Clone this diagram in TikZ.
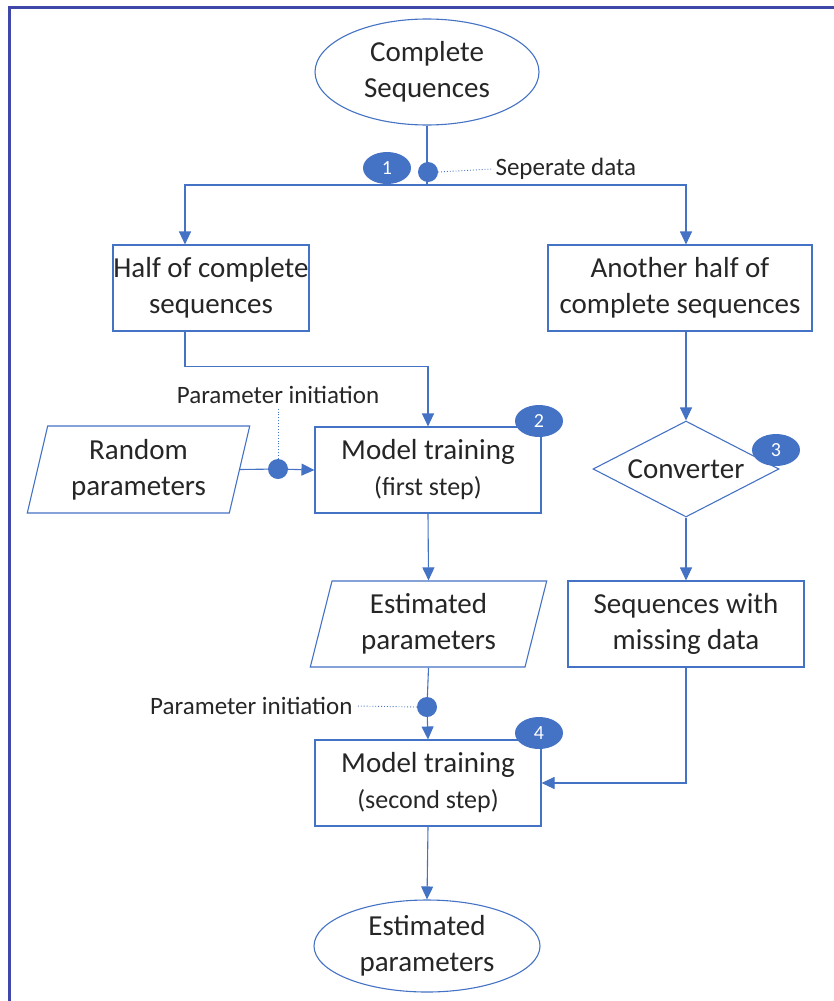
\documentclass[tikz,border=0pt]{standalone}
\usepackage{fontspec}
\setmainfont{Carlito}
\usetikzlibrary{shapes.geometric,arrows.meta}
\definecolor{flowblue}{RGB}{68,114,196}
\definecolor{frameblue}{RGB}{63,72,168}

\begin{document}
\begin{tikzpicture}[x=1pt,y=-1pt,
  every node/.style={font=\fontsize{29}{36}\selectfont,text=black!85},
  procbox/.style={draw=flowblue,line width=1.1pt,align=center,inner sep=0pt,minimum height=86},
  iobox/.style={draw=flowblue,line width=1.1pt,align=center,inner sep=0pt,trapezium,
    trapezium left angle=76,trapezium right angle=104,trapezium stretches=true},
  termin/.style={draw=flowblue,line width=1.1pt,align=center,inner sep=0pt,ellipse},
  decide/.style={draw=flowblue,line width=1.1pt,inner sep=0pt,diamond,aspect=2.4},
  badge/.style={fill=flowblue,ellipse,inner sep=0pt,minimum width=48,minimum height=32,
    text=white,font=\fontsize{20}{22}\selectfont},
  joint/.style={fill=flowblue,circle,inner sep=0pt,minimum size=20},
  note/.style={font=\fontsize{25}{28}\selectfont},
  flowarr/.style={draw=flowblue,line width=1.1pt,-{Triangle[length=13,width=12]}},
  flowline/.style={draw=flowblue,line width=1.1pt},
  dotline/.style={draw=flowblue,line width=0.9pt,dotted}]
\useasboundingbox (0,0) rectangle (834,1001);

% frame
\draw[frameblue,line width=3] (9,1001) -- (9,7) -- (834,7);

% shapes
\node[termin,minimum width=224,minimum height=106] (cs) at (427,72) {Complete\\Sequences};
\node[procbox,minimum width=196] (half) at (211,288) {Half of complete\\sequences};
\node[procbox,minimum width=264] (another) at (680,288) {Another half of\\complete sequences};
\node[iobox,minimum width=223,minimum height=87] (rand) at (138.5,469.5) {Random\\parameters};
\node[procbox,minimum width=226] (train1) at (428,470) {Model training\\{\fontsize{26}{30}\selectfont (first step)}};
\node[decide,minimum width=186,minimum height=96] (conv) at (686,469) {Converter};
\node[iobox,minimum width=237,minimum height=86] (est) at (428.5,624) {Estimated\\parameters};
\node[procbox,minimum width=236] (miss) at (686,624) {Sequences with\\missing data};
\node[procbox,minimum width=226] (train2) at (428,783) {Model training\\{\fontsize{26}{30}\selectfont (second step)}};
\node[termin,minimum width=226,minimum height=92] (res) at (427,946) {Estimated\\parameters};

% junctions
\node[coordinate] (split) at (427,185) {};
\node[coordinate] (hl) at (185,185) {};
\node[coordinate] (hr) at (686,185) {};
\node[joint] (j1) at (428,172) {};
\node[joint] (j2) at (278,469) {};
\node[joint] (j3) at (427,707) {};

% labels
\node[note,anchor=west] (sep) at (492,169) {Seperate data};
\node[note] (pi1) at (278,395) {Parameter initiation};
\node[note,anchor=east] (pi2) at (356,706) {Parameter initiation};

% connectors
\draw[flowarr] (cs.south) -- (split) -| (hl |- half.north);
\draw[flowarr] (split) -| (hr |- another.north);
\draw[flowarr] (hl |- half.south) -- ++(0,35) -| (train1.north);
\draw[flowline] (rand.east) -- (j2);
\draw[flowarr] (j2) -- (train1.west);
\draw[flowarr] (train1.south) -- (est.north);
\draw[flowline] (est.south) -- (j3);
\draw[flowarr] (j3) -- (train2.north);
\draw[flowarr] (hr |- another.south) -- (conv.north);
\draw[flowarr] (conv.south) -- (miss.north);
\draw[flowarr] (miss.south) |- (train2.east);
\draw[flowarr] (train2.south) -- (res.north);
\draw[dotline] (j1.east) -- (sep.west);
\draw[dotline] (j2.north) -- (j2 |- pi1.south);
\draw[dotline] (j3.west) -- (pi2.east);

% step numbers
\node[badge] (b1) at (387,168) {1};
\node[badge] (b2) at (539,421) {2};
\node[badge] (b3) at (776,450) {3};
\node[badge] (b4) at (539,733) {4};
\end{tikzpicture}
\end{document}
